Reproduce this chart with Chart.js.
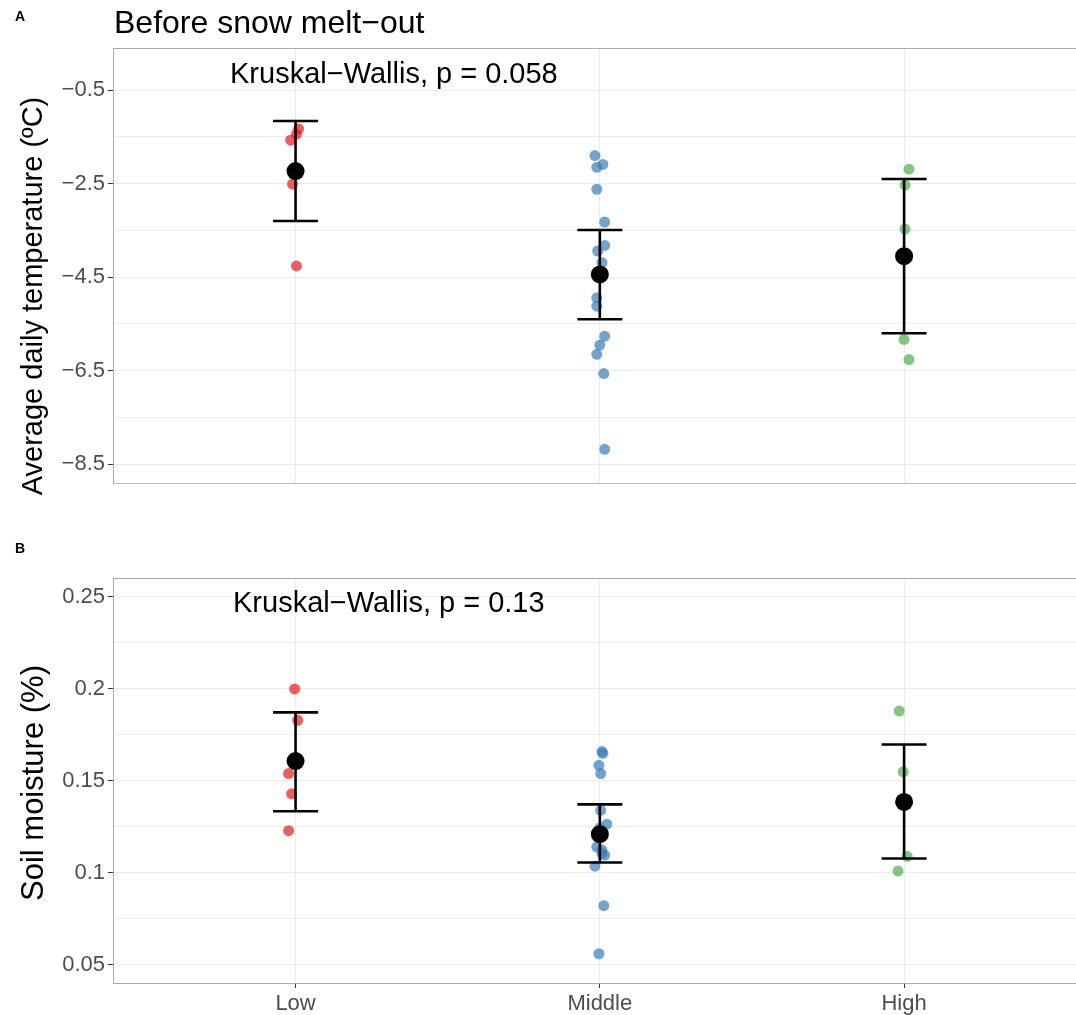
<!DOCTYPE html>
<html><head><meta charset="utf-8">
<script src="https://cdn.jsdelivr.net/npm/chart.js@4"></script>
<style>
html,body{margin:0;padding:0;background:#fff}
body{width:1076px;height:1015px;overflow:hidden;position:relative;font-family:"Liberation Sans",Arial,sans-serif}
canvas{position:absolute;left:0}
.t{position:absolute;white-space:nowrap;color:#000;line-height:1}
.rot{position:absolute;white-space:nowrap;color:#000;line-height:1;transform:translate(-50%,-50%) rotate(-90deg)}
</style></head><body>
<canvas id="cA" width="1076" height="540" style="top:0"></canvas>
<canvas id="cB" width="1076" height="475" style="top:540px"></canvas>
<div class="t" style="left:15px;top:9px;font-size:14px;font-weight:bold">A</div>
<div class="t" style="left:15px;top:541px;font-size:14px;font-weight:bold">B</div>
<div class="t" style="left:114px;top:6px;font-size:32px">Before snow melt−out</div>
<div class="t" style="left:230px;top:59px;font-size:29px">Kruskal−Wallis, p = 0.058</div>
<div class="t" style="left:233px;top:588px;font-size:29px">Kruskal−Wallis, p = 0.13</div>
<div class="rot" style="left:32px;top:296px;font-size:29px">Average daily temperature (ºC)</div>
<div class="rot" style="left:32px;top:783px;font-size:31px">Soil moisture (%)</div>
<script>
// ---- data ----
const categories = ['Low', 'Middle', 'High'];
const groupColors = ['rgba(228,26,28,0.7)', 'rgba(55,126,184,0.7)', 'rgba(77,175,74,0.7)'];

// Panel A: average daily temperature (ºC)
const tempLow = [-1.33, -1.44, -1.57, -2.51, -4.26];
const tempMiddle = [-1.90, -2.09, -2.15, -2.62, -3.32, -3.82, -3.94, -4.19, -4.94, -5.12, -5.76, -5.95, -6.15, -6.56, -8.18];
const tempHigh = [-2.19, -2.53, -3.47, -5.83, -6.26];
const tempJitterLow = [0.010, 0.003, -0.016, -0.010, 0.003];
const tempJitterMiddle = [-0.016, 0.010, -0.010, -0.010, 0.016, 0.016, -0.007, 0.007, -0.010, -0.010, 0.016, 0.000, -0.010, 0.013, 0.016];
const tempJitterHigh = [0.016, 0.003, 0.003, 0.000, 0.016];
const tempMean = [-2.23, -4.44, -4.05];
const tempUpper = [-1.16, -3.49, -2.40];
const tempLower = [-3.30, -5.40, -5.70];
const tempGrid = [-0.5, -1.5, -2.5, -3.5, -4.5, -5.5, -6.5, -7.5, -8.5];
const tempTickLabels = [-0.5, -2.5, -4.5, -6.5, -8.5];

// Panel B: soil moisture (%)
const moistLow = [0.200, 0.183, 0.154, 0.143, 0.123];
const moistMiddle = [0.166, 0.165, 0.1585, 0.154, 0.134, 0.1265, 0.1245, 0.121, 0.1142, 0.1125, 0.1106, 0.1097, 0.1037, 0.0822, 0.0561];
const moistHigh = [0.188, 0.155, 0.109, 0.101];
const moistJitterLow = [-0.003, 0.007, -0.023, -0.013, -0.023];
const moistJitterMiddle = [0.007, 0.010, -0.003, 0.003, 0.003, 0.023, 0.000, -0.007, -0.010, 0.007, 0.007, 0.016, -0.016, 0.013, -0.003];
const moistJitterHigh = [-0.016, -0.003, 0.010, -0.020];
const moistMean = [0.1608, 0.1211, 0.1386];
const moistUpper = [0.1873, 0.1373, 0.1698];
const moistLower = [0.1335, 0.1057, 0.1079];
const moistGrid = [0.05, 0.075, 0.1, 0.125, 0.15, 0.175, 0.2, 0.225, 0.25];
const moistTickLabels = [0.05, 0.1, 0.15, 0.2, 0.25];

// ---- chart builders ----
const FONT = '"Liberation Sans", Arial, sans-serif';
const capHalf = 0.074;

function buildDatasets(groups, jitters, means, uppers, lowers) {
  const ds = [];
  groups.forEach((vals, gi) => {
    ds.push({
      data: vals.map((v, i) => ({x: gi + 1 + jitters[gi][i], y: v})),
      backgroundColor: groupColors[gi], borderWidth: 0, pointRadius: 5.5, pointHoverRadius: 5.5, order: 3
    });
  });
  means.forEach((m, gi) => {
    const c = gi + 1;
    const line = {borderColor: '#000', borderWidth: 2.6, pointRadius: 0, showLine: true, order: 2, fill: false};
    ds.push(Object.assign({data: [{x: c, y: lowers[gi]}, {x: c, y: uppers[gi]}]}, line));
    ds.push(Object.assign({data: [{x: c - capHalf, y: uppers[gi]}, {x: c + capHalf, y: uppers[gi]}]}, line));
    ds.push(Object.assign({data: [{x: c - capHalf, y: lowers[gi]}, {x: c + capHalf, y: lowers[gi]}]}, line));
  });
  ds.push({
    data: means.map((m, gi) => ({x: gi + 1, y: m})),
    backgroundColor: '#000', borderWidth: 0, pointRadius: 9, pointHoverRadius: 9, order: 1
  });
  return ds;
}

const topBorder = {
  id: 'topBorder',
  afterDraw(chart) {
    const {ctx, chartArea} = chart;
    ctx.save();
    ctx.strokeStyle = '#aaaaaa';
    ctx.lineWidth = 1;
    ctx.beginPath();
    ctx.moveTo(chartArea.left, chartArea.top + 0.5);
    ctx.lineTo(chartArea.right, chartArea.top + 0.5);
    ctx.stroke();
    ctx.restore();
  }
};

function makeChart(id, datasets, yMin, yMax, grid, labels, fmt, showX, padTop, xHeight, bottomColor) {
  return new Chart(document.getElementById(id), {
    type: 'scatter',
    data: {datasets},
    plugins: [topBorder],
    options: {
      responsive: false, animation: false, devicePixelRatio: 1,
      layout: {autoPadding: false, padding: {top: padTop, left: 0, right: 0, bottom: 0}},
      plugins: {legend: {display: false}, tooltip: {enabled: false}},
      scales: {
        x: {
          type: 'linear', min: 0.4, max: 3.565,
          afterBuildTicks: s => { s.ticks = categories.map((c, i) => ({value: i + 1})); },
          afterFit: s => { s.height = xHeight; },
          grid: {color: '#ebebeb', lineWidth: 1, drawTicks: showX, tickLength: 5, tickColor: '#333'},
          border: {display: true, color: bottomColor, width: 1},
          ticks: {display: showX, padding: 3, color: '#4d4d4d', font: {family: FONT, size: 22},
                  callback: v => categories[Math.round(v) - 1]}
        },
        y: {
          type: 'linear', min: yMin, max: yMax,
          afterBuildTicks: s => { s.ticks = grid.map(v => ({value: v})); },
          afterFit: s => { s.width = 113; },
          grid: {color: '#ebebeb', lineWidth: 1, tickLength: 5,
                 tickColor: c => labels.includes(c.tick ? c.tick.value : NaN) ? '#333' : 'rgba(0,0,0,0)'},
          border: {display: true, color: '#aaaaaa', width: 1},
          ticks: {padding: 3, color: '#4d4d4d', font: {family: FONT, size: 22},
                  callback: v => labels.includes(v) ? fmt(v) : ''}
        }
      }
    }
  });
}

makeChart('cA',
  buildDatasets([tempLow, tempMiddle, tempHigh], [tempJitterLow, tempJitterMiddle, tempJitterHigh], tempMean, tempUpper, tempLower),
  -8.9, 0.4, tempGrid, tempTickLabels, v => (v < 0 ? '−' : '') + Math.abs(v).toFixed(1), false, 48, 57, '#bbbbbb');

makeChart('cB',
  buildDatasets([moistLow, moistMiddle, moistHigh], [moistJitterLow, moistJitterMiddle, moistJitterHigh], moistMean, moistUpper, moistLower),
  0.0402, 0.2603, moistGrid, moistTickLabels, v => String(v), true, 38, 32, '#aaaaaa');
</script>
</body></html>
